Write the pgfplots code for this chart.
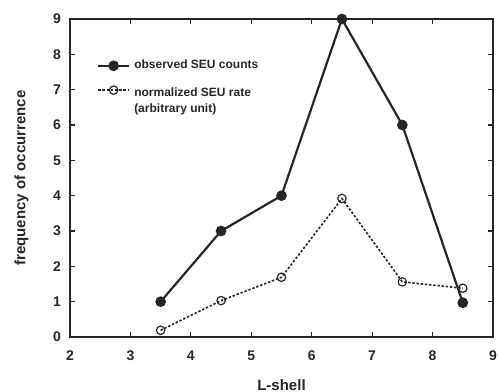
\documentclass[border=0pt]{standalone}
\usepackage{pgfplots}
\pgfplotsset{compat=1.18}
\usepackage{fontspec}
\setmainfont{Liberation Sans}
\begin{document}
\begin{tikzpicture}
\begin{axis}[
  scale only axis,
  width=211.5pt, height=159pt,
  xmin=2, xmax=9, ymin=0, ymax=9,
  xtick={2,3,4,5,6,7,8,9},
  ytick={0,1,2,3,4,5,6,7,8,9},
  tick align=inside,
  major tick length=2.5pt,
  axis line style={line width=0.7pt, black!85},
  every tick/.style={line width=0.6pt, black!85},
  tick label style={font=\fontsize{7}{8}\selectfont\bfseries, text=black!85},
  /pgf/number format/assume math mode=true,
  xticklabel style={yshift=-3.5pt},
  yticklabel style={xshift=-1pt},
  xlabel={L-shell},
  ylabel={frequency of occurrence},
  label style={font=\fontsize{7.5}{9}\selectfont\bfseries, text=black!85},
  xlabel style={yshift=-2.5pt},
  ylabel style={yshift=5.5pt},
  legend style={draw=none, fill=none, at={(0.063,0.885)}, anchor=north west,
    font=\fontsize{6}{7}\selectfont\bfseries, text=black!85,
    row sep=4.5pt, inner sep=0pt,
    legend cell align=left},
  legend image code/.code={\draw[mark repeat=2,mark phase=2,#1] plot coordinates {(0pt,0pt)(7.75pt,0pt)(15.5pt,0pt)};},
]
\addplot[black!85, line width=1.1pt, mark=*, mark size=2.1pt, mark options={solid, fill=black!85}]
  coordinates {(3.5,1) (4.5,3) (5.5,4) (6.5,9) (7.5,6) (8.5,0.97)};
\addlegendentry{observed SEU counts}
\addplot[black!85, line width=0.8pt, dash pattern=on 1.2pt off 0.9pt, mark=o, mark size=2.1pt, mark options={solid, fill=white, line width=0.6pt}]
  coordinates {(3.5,0.19) (4.5,1.03) (5.5,1.69) (6.5,3.92) (7.5,1.56) (8.5,1.38)};
\addlegendentry{\smash{\raisebox{-4pt}{\begin{tabular}[t]{@{}l@{}}normalized SEU rate\\[1pt](arbitrary unit)\end{tabular}}}}
\end{axis}
\pgfresetboundingbox
\path ([xshift=-35pt,yshift=-27pt]current axis.south west) rectangle ([xshift=2.5pt,yshift=9.5pt]current axis.north east);
\end{tikzpicture}
\end{document}
